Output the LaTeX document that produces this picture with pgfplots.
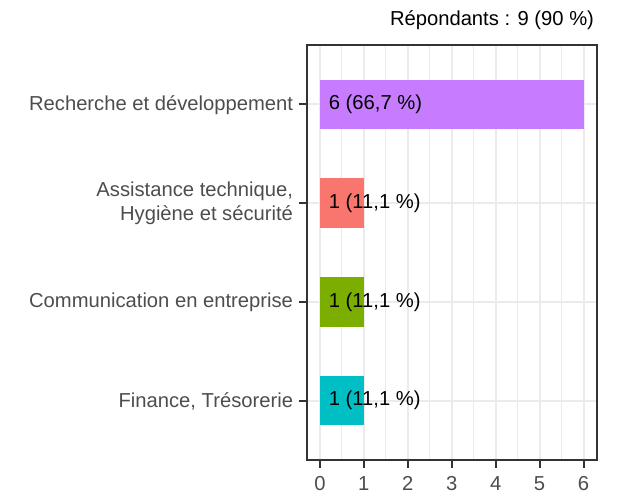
\documentclass[border=0pt]{standalone}
\usepackage{fontspec}
\setmainfont{Liberation Sans}
\usepackage{pgfplots}
\pgfplotsset{compat=1.18}
\definecolor{grey20}{HTML}{333333}
\definecolor{grey30}{HTML}{4D4D4D}
\definecolor{grey92}{HTML}{EBEBEB}
\definecolor{cPurple}{HTML}{C77CFF}
\definecolor{cRed}{HTML}{F8766D}
\definecolor{cGreen}{HTML}{7CAE00}
\definecolor{cCyan}{HTML}{00BFC4}
\newcommand{\chartfont}{\fontsize{20.2bp}{24bp}\selectfont}
\begin{document}
\begin{tikzpicture}
\useasboundingbox (0,0) rectangle (618bp,494bp);
\begin{axis}[
  at={(306.7bp,34bp)}, anchor=south west,
  scale only axis, width=290bp, height=415bp,
  xmin=-0.3, xmax=6.3, ymin=0.4, ymax=4.6,
  xtick={0,1,2,3,4,5,6},
  minor x tick num=1,
  ytick={1,2,3,4},
  yticklabels={Finance{,} Trésorerie, Communication en entreprise, {Assistance technique,\\Hygiène et sécurité}, Recherche et développement},
  xtick pos=bottom, ytick pos=left,
  tick align=outside,
  major tick length=8bp, minor tick length=0pt,
  every tick/.style={draw=grey20, line width=2bp},
  major tick style={draw=grey20, line width=2bp},
  axis line style={draw=grey20, line width=2bp},
  xmajorgrids, xminorgrids, ymajorgrids,
  major grid style={draw=grey92, line width=2bp},
  minor grid style={draw=grey92, line width=1bp},
  /pgf/number format/assume math mode=true,
  ticklabel style={font=\chartfont, text=grey30},
  yticklabel style={align=right, anchor=east, inner sep=0pt, xshift=-5.5bp, yshift=-0.5bp},
  xticklabel style={anchor=north, inner sep=0pt, yshift=-8bp},
  bar shift=0pt,
  clip=false,
]
\addplot[xbar, bar width=0.5, fill=cPurple, draw=none] coordinates {(6,4)};
\addplot[xbar, bar width=0.5, fill=cRed, draw=none] coordinates {(1,3)};
\addplot[xbar, bar width=0.5, fill=cGreen, draw=none] coordinates {(1,2)};
\addplot[xbar, bar width=0.5, fill=cCyan, draw=none] coordinates {(1,1)};
\addplot[draw=none, mark=none, point meta=explicit symbolic,
  nodes near coords,
  every node near coord/.append style={anchor=west, inner sep=0pt, text=black, font=\chartfont}]
  coordinates {(0.2,4) [6 (66,7 \%)] (0.2,3) [1 (11,1 \%)] (0.2,2) [1 (11,1 \%)] (0.2,1) [1 (11,1 \%)]};
\node[anchor=base east, inner sep=0pt, font=\chartfont] at (rel axis cs:1,1) [yshift=19bp, xshift=-2.5bp] {Répondants : 9 (90 \%)};
\end{axis}
\end{tikzpicture}
\end{document}
